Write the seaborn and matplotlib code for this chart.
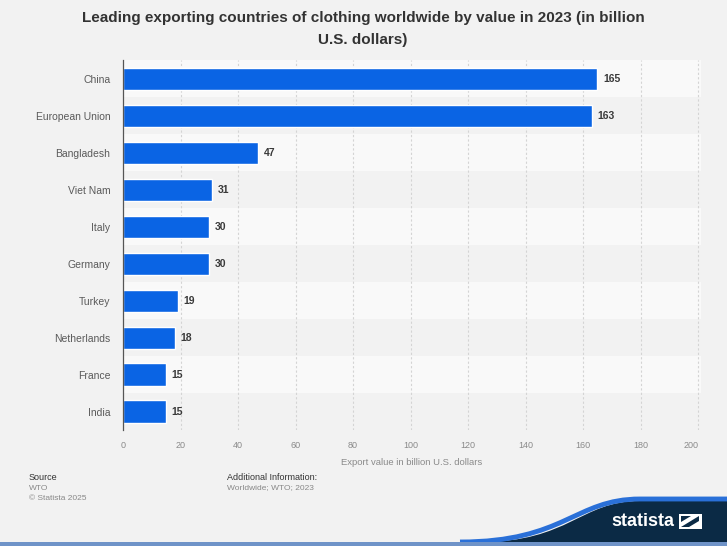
import matplotlib
matplotlib.use("Agg")
import matplotlib.pyplot as plt
import seaborn as sns
import pandas as pd
from matplotlib.path import Path
from matplotlib.patches import PathPatch, Rectangle, Polygon

countries = ["China", "European Union", "Bangladesh", "Viet Nam", "Italy",
             "Germany", "Turkey", "Netherlands", "France", "India"]
values = [165, 163, 47, 31, 30, 30, 19, 18, 15, 15]
x_ticks = [0, 20, 40, 60, 80, 100, 120, 140, 160, 180, 200]

df = pd.DataFrame({"country": countries, "value": values})

sns.set_theme(style="white")
plt.rcParams["font.family"] = ["Liberation Sans", "DejaVu Sans"]

W, H = 727, 546
fig = plt.figure(figsize=(W / 100, H / 100), dpi=100)
fig.patch.set_facecolor("#f2f2f2")

ax = fig.add_axes([123 / W, 1 - 430 / H, (701 - 123) / W, 369.5 / H])
ax.set_facecolor("#f2f2f2")

# alternating row bands
for i in range(len(countries)):
    ax.axhspan(i - 0.5, i + 0.5, color="#f9f9f9" if i % 2 == 0 else "#f2f2f2",
               zorder=0, lw=0)

sns.barplot(data=df, x="value", y="country", orient="h", color="#0a64e4",
            width=0.6, saturation=1, ax=ax, zorder=3)

ax.bar_label(ax.containers[0], fmt="%d", padding=4, fontsize=7.5,
             color="#3a3a3a", fontweight="bold")

ax.set_xlim(0, 201)
ax.set_ylim(len(countries) - 0.5, -0.5)
ax.set_xticks(x_ticks)
ax.set_xticklabels([str(t) for t in x_ticks])
ax.tick_params(axis="x", labelsize=6.5, colors="#8a8a8a", length=0, pad=8)
ax.tick_params(axis="y", labelsize=7.5, colors="#5a5a5a", length=0, pad=9)
ax.get_xticklabels()[-1].set_horizontalalignment("right")
for t in x_ticks[1:]:
    ax.axvline(t, color="#d4d4d4", lw=0.8, ls=(0, (2, 2)), zorder=1)
ax.set_xlabel("Export value in billion U.S. dollars", fontsize=6.8,
              color="#8a8a8a", labelpad=6)
ax.set_ylabel("")
for s in ["top", "right", "bottom"]:
    ax.spines[s].set_visible(False)
ax.spines["left"].set_color("#555555")
ax.spines["left"].set_linewidth(0.9)
ax.spines["left"].set_zorder(5)

fig.text(363 / W, 1 - 18 / H,
         "Leading exporting countries of clothing worldwide by value in 2023 (in billion",
         ha="center", va="center", fontsize=11, fontweight="bold", color="#333333")
fig.text(363 / W, 1 - 40 / H, "U.S. dollars)", ha="center", va="center",
         fontsize=11, fontweight="bold", color="#333333")

# footer
fig.text(29 / W, 1 - 477 / H, "Source", fontsize=6.5, color="#333333", va="center")
fig.text(29 / W, 1 - 488 / H, "WTO", fontsize=6, color="#888888", va="center")
fig.text(29 / W, 1 - 499 / H, "© Statista 2025", fontsize=6, color="#888888", va="center")
fig.text(227 / W, 1 - 477 / H, "Additional Information:", fontsize=6.5,
         color="#333333", va="center")
fig.text(227 / W, 1 - 488 / H, "Worldwide; WTO; 2023", fontsize=6,
         color="#888888", va="center")

# logo wave
ov = fig.add_axes([0, 0, 1, 1], zorder=5)
ov.set_xlim(0, W)
ov.set_ylim(H, 0)
ov.axis("off")
ov.patch.set_alpha(0)
fill = [(480, 542), (570, 542), (580, 501), (640, 501),
        (W, 501), (W, 542), (480, 542)]
fcodes = [Path.MOVETO, Path.CURVE4, Path.CURVE4, Path.CURVE4,
          Path.LINETO, Path.LINETO, Path.CLOSEPOLY]
ov.add_patch(PathPatch(Path(fill, fcodes), facecolor="#0b2a45", edgecolor="none"))
edge = [(460, 542), (565, 542), (575, 499), (640, 499), (W, 499)]
ecodes = [Path.MOVETO, Path.CURVE4, Path.CURVE4, Path.CURVE4, Path.LINETO]
ov.add_patch(PathPatch(Path(edge, ecodes), facecolor="none",
                       edgecolor="#2a70d8", lw=3.5, capstyle="butt"))
ov.add_patch(Rectangle((0, 542), W, 4, facecolor="#6f93c8", edgecolor="none"))
ov.text(643, 522, "statista", color="white", fontsize=13, fontweight="bold",
        ha="center", va="center")
ov.add_patch(Rectangle((679, 514), 23, 15, facecolor="white", edgecolor="none"))
ov.add_patch(Polygon([(681, 527), (699, 516), (699, 521), (689, 527)],
                     facecolor="#0b2a45", edgecolor="none"))
ov.add_patch(Polygon([(681, 516), (691, 516), (681, 522)],
                     facecolor="#0b2a45", edgecolor="none"))

fig.savefig("out.png", dpi=100, facecolor=fig.get_facecolor())
